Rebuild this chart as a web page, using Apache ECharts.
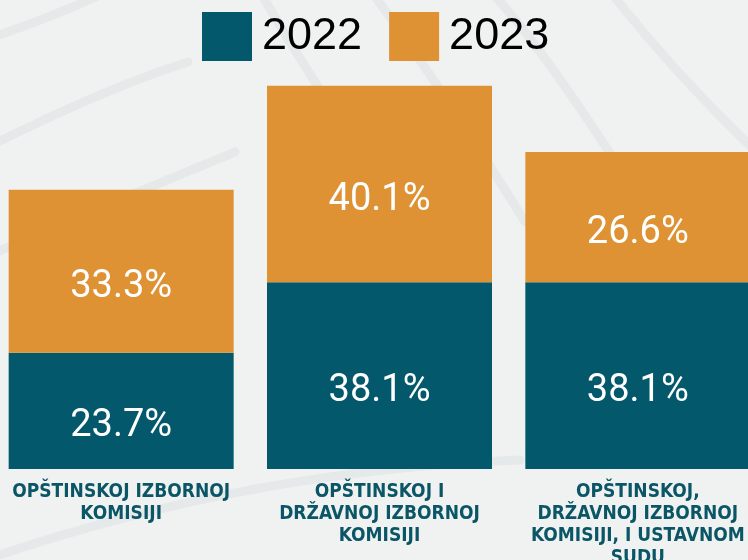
<!DOCTYPE html>
<html>
<head>
<meta charset="utf-8">
<script src="https://cdn.jsdelivr.net/npm/echarts@6/dist/echarts.min.js"></script>
<style>
  html, body { margin: 0; padding: 0; background: #f0f2f2; }
  #chart { width: 748px; height: 560px; }
</style>
</head>
<body>
<div id="chart"></div>
<script>
// kategorije (x osa)
var categories = [
  'OPŠTINSKOJ IZBORNOJ\nKOMISIJI',
  'OPŠTINSKOJ I\nDRŽAVNOJ IZBORNOJ\nKOMISIJI',
  'OPŠTINSKOJ,\nDRŽAVNOJ IZBORNOJ\nKOMISIJI, I USTAVNOM\nSUDU'
]
var seriesNames = ['2022', '2023']
var values2022 = [23.7, 38.1, 38.1]
var values2023 = [33.3, 40.1, 26.6]

var teal = '#03596b'
var orange = '#de9234'
var arcColor = '#e6e9ea'

// blijedi lukovi u pozadini
function arc(x1, y1, cx, cy, x2, y2) {
  return {
    type: 'bezierCurve',
    z: -1,
    silent: true,
    shape: { x1: x1, y1: y1, cpx1: cx, cpy1: cy, x2: x2, y2: y2 },
    style: { stroke: arcColor, lineWidth: 9, fill: null, lineCap: 'round' }
  }
}

var chart = echarts.init(document.getElementById('chart'))

var valueLabel = {
  show: true,
  position: 'inside',
  offset: [0, 16],
  formatter: '{c}%',
  color: '#fff',
  fontFamily: 'Roboto',
  fontSize: 38
}

var option = {
  backgroundColor: '#f0f2f2',
  graphic: [
    arc(-10, 38, 45, 20, 100, -5),
    arc(-10, 146, 106, 88, 188, 62),
    arc(-10, 255, 130, 195, 235, 152),
    arc(262, -5, 285, 35, 320, 90),
    arc(374, -5, 450, 100, 525, 222),
    arc(494, -5, 545, 50, 640, 200),
    arc(613, -5, 680, 80, 765, 160),
    arc(-10, 558, 250, 470, 520, 460)
  ],
  legend: {
    data: seriesNames,
    left: 202,
    top: 12,
    padding: 0,
    icon: 'rect',
    itemWidth: 50,
    itemHeight: 49,
    itemGap: 27,
    textStyle: {
      fontFamily: 'Liberation Sans',
      fontSize: 45,
      color: '#000',
      padding: [0, 0, 0, 5]
    }
  },
  grid: {
    left: -8,
    width: 775,
    top: 77,
    bottom: 91,
    outerBoundsMode: 'none',
    containLabel: false
  },
  xAxis: {
    type: 'category',
    data: categories,
    axisLine: { show: false },
    axisTick: { show: false },
    axisLabel: {
      interval: 0,
      margin: 12,
      fontFamily: '"DejaVu Sans Condensed", Roboto, sans-serif',
      fontWeight: 'bold',
      fontSize: 19,
      lineHeight: 22,
      color: '#0b5666',
      align: 'center'
    }
  },
  yAxis: {
    type: 'value',
    min: 0,
    max: 80,
    show: false,
    splitLine: { show: false }
  },
  series: [
    {
      name: seriesNames[0],
      type: 'bar',
      stack: 'ukupno',
      barWidth: 225,
      data: values2022,
      itemStyle: { color: teal },
      label: valueLabel
    },
    {
      name: seriesNames[1],
      type: 'bar',
      stack: 'ukupno',
      barWidth: 225,
      data: values2023,
      itemStyle: { color: orange },
      label: valueLabel
    }
  ]
}

chart.setOption(option)
</script>
</body>
</html>
